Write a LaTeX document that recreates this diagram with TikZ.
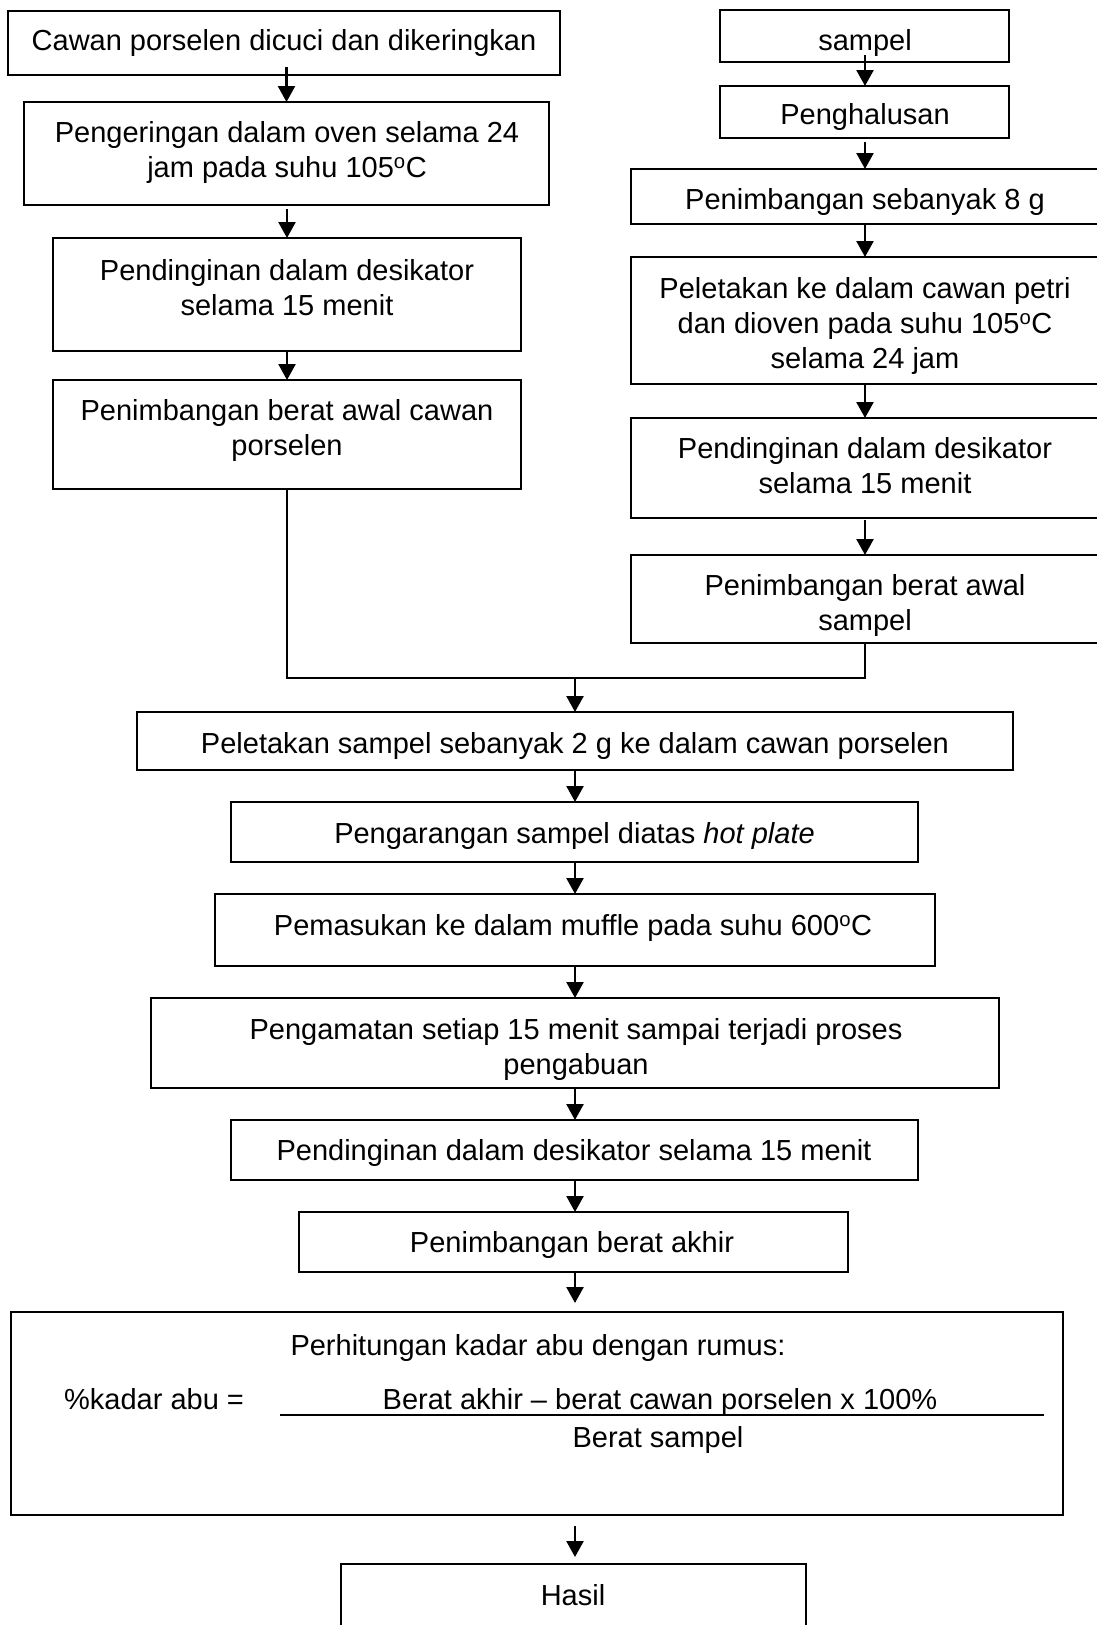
\documentclass[tikz,border=0pt]{standalone}
\usepackage{fontspec}
\setmainfont{Liberation Sans}
\usetikzlibrary{arrows.meta}
\begin{document}
\begin{tikzpicture}[x=1pt,y=-1pt,
  bx/.style={draw, line width=2.2pt, inner sep=0pt, outer sep=0pt},
  tx/.style={anchor=north, inner sep=0pt, align=center, font=\fontsize{29}{35}\selectfont},
  arr/.style={line width=2.4pt, -{Triangle[width=17pt,length=16pt]}},
  joinline/.style={line width=1.5pt}]
\fill[white] (0,0) rectangle (1097,1625);
\useasboundingbox (0,0) rectangle (1097,1625);

% ---------- left column ----------
\node[bx, minimum width=552pt, minimum height=64pt]  (l1) at (284,43) {};
\node[bx, minimum width=525pt, minimum height=103pt] (l2) at (286.5,153.5) {};
\node[bx, minimum width=468pt, minimum height=113pt] (l3) at (287,294.5) {};
\node[bx, minimum width=468pt, minimum height=109pt] (l4) at (287,434.5) {};

\node[tx] (tl1) at (284,29) {Cawan porselen dicuci dan dikeringkan};
\node[tx] (tl2) at (287,121) {Pengeringan dalam oven selama 24\\jam pada suhu 105\textsuperscript{o}C};
\node[tx] (tl3) at (287,259) {Pendinginan dalam desikator\\selama 15 menit};
\node[tx] (tl4) at (287,399) {Penimbangan berat awal cawan\\porselen};

% ---------- right column ----------
\node[bx, minimum width=289pt, minimum height=51.5pt] (r1) at (864.5,36) {};
\node[bx, minimum width=289pt, minimum height=52pt]   (r2) at (864.5,112) {};
\node[bx, minimum width=468pt, minimum height=55pt]   (r3) at (865,196.5) {};
\node[bx, minimum width=468pt, minimum height=127pt]  (r4) at (865,320.5) {};
\node[bx, minimum width=468pt, minimum height=100pt]  (r5) at (865,468) {};
\node[bx, minimum width=468pt, minimum height=88pt]   (r6) at (865,599) {};

\node[tx] (tr1) at (865,29) {sampel};
\node[tx] (tr2) at (865,103.5) {Penghalusan};
\node[tx] (tr3) at (865,188) {Penimbangan sebanyak 8 g};
\node[tx] (tr4) at (865,277) {Peletakan ke dalam cawan petri\\dan dioven pada suhu 105\textsuperscript{o}C\\selama 24 jam};
\node[tx] (tr5) at (865,437) {Pendinginan dalam desikator\\selama 15 menit};
\node[tx] (tr6) at (865,574) {Penimbangan berat awal\\sampel};

% ---------- main column ----------
\node[bx, minimum width=876pt, minimum height=58pt]  (m1) at (575,741) {};
\node[bx, minimum width=687pt, minimum height=60pt]  (m2) at (574.5,832) {};
\node[bx, minimum width=720pt, minimum height=72pt]  (m3) at (575,930) {};
\node[bx, minimum width=848pt, minimum height=90pt]  (m4) at (575,1043) {};
\node[bx, minimum width=687pt, minimum height=60pt]  (m5) at (574.5,1150) {};
\node[bx, minimum width=549pt, minimum height=60pt]  (m6) at (573.5,1242) {};
\node[bx, minimum width=1052.5pt, minimum height=203pt] (calc) at (537,1413.5) {};
\node[bx, minimum width=465pt, minimum height=66pt]  (hasil) at (573.5,1597) {};

\node[tx] (tm1) at (575,732) {Peletakan sampel sebanyak 2 g ke dalam cawan porselen};
\node[tx] (tm2) at (574.5,822) {Pengarangan sampel diatas \textit{hot plate}};
\node[tx] (tm3) at (573,914) {Pemasukan ke dalam muffle pada suhu 600\textsuperscript{o}C};
\node[tx] (tm4) at (576,1018) {Pengamatan setiap 15 menit sampai terjadi proses\\pengabuan};
\node[tx] (tm5) at (574,1139) {Pendinginan dalam desikator selama 15 menit};
\node[tx] (tm6) at (572,1231) {Penimbangan berat akhir};

\node[tx] (tc1) at (538,1334) {Perhitungan kadar abu dengan rumus:};
\node[tx, anchor=north west] (tc2) at (64,1388) {\%kadar abu =};
\node[tx] (tc3) at (660,1388) {Berat akhir \textendash{} berat cawan porselen x 100\%};
\node[tx] (tc4) at (658,1426) {Berat sampel};
\coordinate (fracL) at (280,1415);
\coordinate (fracR) at (1044,1415);
\draw[line width=1.5pt] (fracL) -- (fracR);

\node[tx] (th) at (573,1584) {Hasil};

% ---------- connectors ----------
\draw[arr, shorten <=-8pt] (l1.south -| l2.north) -- (l2.north);
\draw[arr, shorten <=4pt] (l2.south -| l3.north) -- (l3.north);
\draw[arr] (l3.south) -- (l4.north);

\draw[arr, shorten <=-7pt] (r1.south -| r3.north) -- (r2.north -| r3.north);
\draw[arr, shorten <=4pt] (r2.south -| r3.north) -- (r3.north);
\draw[arr] (r3.south) -- (r4.north);
\draw[arr] (r4.south) -- (r5.north);
\draw[arr, shorten <=2pt] (r5.south) -- (r6.north);

\coordinate (mrg) at (575,678);
\draw[joinline] (l4.south) -- (l4.south |- mrg) -- (mrg -| r6.south) -- (r6.south);
\draw[arr] (mrg) -- (m1.north);

\draw[arr] (m1.south) -- (m2.north -| m1.south);
\draw[arr] (m2.south -| m1.south) -- (m3.north);
\draw[arr] (m3.south) -- (m4.north);
\draw[arr] (m4.south) -- (m5.north -| m4.south);
\draw[arr] (m5.south -| m4.south) -- (m6.north -| m4.south);
\draw[arr, shorten >=9pt] (m6.south -| m4.south) -- (calc.north -| m4.south);
\draw[arr, shorten <=11pt, shorten >=7pt] (calc.south -| m4.south) -- (hasil.north -| m4.south);
\end{tikzpicture}
\end{document}
